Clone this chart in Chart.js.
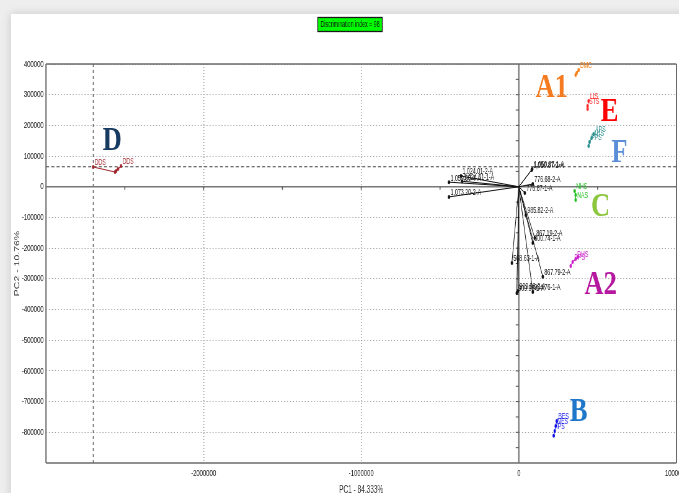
<!DOCTYPE html>
<html>
<head>
<meta charset="utf-8">
<script src="https://cdn.jsdelivr.net/npm/chart.js@4.4.1/dist/chart.umd.min.js"></script>
<style>
  html, body { margin: 0; padding: 0; width: 679px; height: 493px; overflow: hidden; background: #eeeeee; }
  #card { position: absolute; left: 11px; top: 14px; width: 760px; height: 560px; background: #ffffff;
          box-shadow: 0 0 9px rgba(0, 0, 0, 0.16); }
  #wrap { position: absolute; left: 0; top: 0; transform: scaleX(0.62); transform-origin: 0 0; }
  canvas { display: block; }
</style>
</head>
<body>
<div id="card"></div>
<div id="wrap"><canvas id="pca" width="1095" height="500"></canvas></div>
<script>
// ---- texts and axes -------------------------------------------------------
const CHART_TITLE = 'Discrimination index = 98';
const X_TITLE = 'PC1 - 84.333%';
const Y_TITLE = 'PC2 - 10.76%';
const X_TICKS = [-2000000, -1000000, 0, 1000000];
const Y_TICKS = [400000, 300000, 200000, 100000, 0, -100000, -200000, -300000,
                 -400000, -500000, -600000, -700000, -800000];
const X_RANGE = [-3000000, 1000000];
const Y_RANGE = [-900000, 400000];

// dashed reference lines through group D
const REF_X = -2700000;
const REF_Y = 65000;

// ---- loading vectors (drawn from the origin) ------------------------------
const LOADING_NAMES = ['1,059.90-4-A', '1,024.01-2-A', '1,024.01-1-A', '1,073.20-2-A',
  '1,050.87-2-A', '1,050.87-1-A', '776.68-2-A', '776.87-1-A', '985.82-2-A',
  '867.19-2-A', '800.74-1-A', '568.63-1-A', '867.79-2-A', '909.98-1-A',
  '909.98-2-A', '964.76-1-A'];
const LOADING_X = [-443000, -367000, -360000, -443000, 82000, 85000, 88500, 38000, 44000,
  101000, 88500, -44000, 152000, -13000, -6000, 88500];
const LOADING_Y = [15000, 35000, 18000, -33000, 55000, 58000, 9000, -20000, -92000,
  -167000, -183000, -248000, -293000, -346000, -340000, -343000];

// ---- sample groups ----------------------------------------------------------
const D_X = [-2701000, -2562000, -2543000, -2524000, -2555000];
const D_Y = [64500, 48200, 57600, 67700, 51500];
const D_LABELS = ['DDS', '', '', 'DDS', ''];

const A1_X = [360500, 366900, 379500];
const A1_Y = [364100, 370700, 380400];
const A1_LABELS = ['', '', 'BMC'];

const E_X = [442800, 436400, 436400];
const E_Y = [279500, 263200, 253400];
const E_LABELS = ['LIS', 'STS', ''];

const F_X = [442800, 449000, 461700, 474400];
const F_Y = [132900, 145900, 158900, 171900];
const F_LABELS = ['', 'PPS', 'AHS', 'APS'];

const C_X = [360500, 360500, 354200];
const C_Y = [-43000, -26700, -13700];
const C_LABELS = ['NAS', '', 'NHS'];

const A2_X = [328900, 341600, 360500, 373200];
const A2_Y = [-258000, -244900, -235200, -228700];
const A2_LABELS = ['', 'DPS', 'DHS', ''];

const B_X = [221400, 227700, 234000, 240400];
const B_Y = [-811600, -795400, -779100, -762800];
const B_LABELS = ['', 'IPS', 'NES', 'BES'];

// group tags placed next to each group
const TAG_NAMES = ['D', 'A1', 'E', 'F', 'C', 'A2', 'B'];
const TAG_X = [-2580000, 208700, 575600, 638800, 518700, 518700, 379500];
const TAG_Y = [152000, 325000, 246900, 113300, -65800, -319800, -733400];

// ---- styles -------------------------------------------------------------------
const SQUEEZE = 0.62;                 // horizontal squeeze applied by the page CSS
const GROUP_STYLE = {
  D:  '#a1282e',
  A1: '#f7821b',
  E:  '#ff2a2a',
  F:  '#2b8f8f',
  C:  '#1fbf1f',
  A2: '#cc22cc',
  B:  '#1515e6'
};
const TAG_STYLE = {
  D:  '#173a61',
  A1: '#f47b20',
  E:  '#ff0000',
  F:  '#5b8ed6',
  C:  '#8cc63e',
  A2: '#b5179e',
  B:  '#1f77c9'
};

const FONT = "'Liberation Sans', Arial, sans-serif";
Chart.defaults.font.family = FONT;

// ---- datasets ------------------------------------------------------------------
const datasets = [];

LOADING_NAMES.forEach((name, i) => {
  datasets.push({
    label: name,
    data: [{ x: 0, y: 0 }, { x: LOADING_X[i], y: LOADING_Y[i] }],
    showLine: true,
    borderColor: '#111111',
    borderWidth: 1,
    pointRadius: [0, 2],
    pointBackgroundColor: '#111111',
    pointBorderWidth: 0,
    pointLabels: ['', name],
    labelColor: '#111111'
  });
});

const groups = [
  ['D', D_X, D_Y, D_LABELS],
  ['A1', A1_X, A1_Y, A1_LABELS],
  ['E', E_X, E_Y, E_LABELS],
  ['F', F_X, F_Y, F_LABELS],
  ['C', C_X, C_Y, C_LABELS],
  ['A2', A2_X, A2_Y, A2_LABELS],
  ['B', B_X, B_Y, B_LABELS]
];
groups.forEach(([key, xs, ys, labels]) => {
  const color = GROUP_STYLE[key];
  datasets.push({
    label: key,
    data: xs.map((x, i) => ({ x, y: ys[i] })),
    showLine: true,
    borderColor: color,
    borderWidth: 1.1,
    pointRadius: 2,
    pointBackgroundColor: color,
    pointBorderWidth: 0,
    pointLabels: labels,
    labelColor: color
  });
});

// ---- drawing helpers ---------------------------------------------------------------
const frame = {
  id: 'frame',
  beforeDatasetsDraw(chart) {
    const { ctx, chartArea: a, scales: { x, y } } = chart;
    const x0 = x.getPixelForValue(0);
    const y0 = y.getPixelForValue(0);
    ctx.save();

    // dashed reference lines
    const rx = x.getPixelForValue(REF_X);
    const ry = y.getPixelForValue(REF_Y);
    ctx.strokeStyle = '#444444';
    ctx.lineWidth = 1.1;
    ctx.setLineDash([5, 3.5]);
    ctx.beginPath(); ctx.moveTo(a.left, ry); ctx.lineTo(a.right, ry); ctx.stroke();
    ctx.strokeStyle = '#707070';
    ctx.lineWidth = 1.6;
    ctx.setLineDash([3, 3]);
    ctx.beginPath(); ctx.moveTo(rx, a.top); ctx.lineTo(rx, a.bottom); ctx.stroke();
    ctx.setLineDash([]);

    // zero axes
    ctx.strokeStyle = '#777777';
    ctx.lineWidth = 1.4;
    ctx.beginPath(); ctx.moveTo(a.left, y0); ctx.lineTo(a.right, y0); ctx.stroke();
    ctx.lineWidth = 2.2;
    ctx.beginPath(); ctx.moveTo(x0, a.top); ctx.lineTo(x0, a.bottom); ctx.stroke();

    // small ticks on the zero axes
    ctx.strokeStyle = '#555555';
    ctx.lineWidth = 1;
    for (let v = Y_RANGE[0] + 50000; v < Y_RANGE[1]; v += 50000) {
      const py = y.getPixelForValue(v);
      ctx.beginPath(); ctx.moveTo(x0 - 5, py); ctx.lineTo(x0, py); ctx.stroke();
    }
    ctx.lineWidth = 1.6;
    for (let v = X_RANGE[0] + 500000; v < X_RANGE[1]; v += 500000) {
      const px = x.getPixelForValue(v);
      ctx.beginPath(); ctx.moveTo(px, y0); ctx.lineTo(px, y0 + 3); ctx.stroke();
    }

    // plot frame
    ctx.strokeStyle = '#6a6a6a';
    ctx.lineWidth = 1.3;
    ctx.beginPath(); ctx.moveTo(a.left, a.top); ctx.lineTo(a.right, a.top); ctx.stroke();
    ctx.beginPath(); ctx.moveTo(a.left, a.bottom); ctx.lineTo(a.right, a.bottom); ctx.stroke();
    ctx.lineWidth = 2;
    ctx.beginPath(); ctx.moveTo(a.left, a.top); ctx.lineTo(a.left, a.bottom); ctx.stroke();
    ctx.beginPath(); ctx.moveTo(a.right, a.top); ctx.lineTo(a.right, a.bottom); ctx.stroke();
    ctx.restore();
  },
  afterDatasetsDraw(chart) {
    const { ctx, scales: { x, y } } = chart;
    ctx.save();

    // point names
    ctx.font = '8.5px ' + FONT;
    ctx.textAlign = 'left';
    ctx.textBaseline = 'middle';
    chart.data.datasets.forEach((ds, di) => {
      const meta = chart.getDatasetMeta(di);
      (ds.pointLabels || []).forEach((txt, i) => {
        if (!txt) return;
        const el = meta.data[i];
        ctx.fillStyle = ds.labelColor;
        ctx.fillText(txt, el.x + 2.5, el.y - 4);
      });
    });

    // group tags
    ctx.textAlign = 'center';
    ctx.textBaseline = 'middle';
    ctx.font = "bold 33px 'Liberation Serif', 'Times New Roman', serif";
    TAG_NAMES.forEach((t, i) => {
      const px = x.getPixelForValue(TAG_X[i]);
      const py = y.getPixelForValue(TAG_Y[i]);
      ctx.save();
      ctx.translate(px, py + 1);
      ctx.scale(1.3, 1);
      ctx.fillStyle = TAG_STYLE[t];
      ctx.fillText(t, 0, 0);
      ctx.restore();
    });

    // title badge
    const cx = 350 / SQUEEZE;
    const bw = 104, bh = 14, by = 17.5;
    ctx.fillStyle = '#00ff00';
    ctx.fillRect(cx - bw / 2, by, bw, bh);
    ctx.strokeStyle = '#1a1a1a';
    ctx.lineWidth = 1.3;
    ctx.strokeRect(cx - bw / 2, by, bw, bh);
    ctx.fillStyle = '#111111';
    ctx.font = '8.5px ' + FONT;
    ctx.fillText(CHART_TITLE, cx, by + bh / 2 + 0.5);
    ctx.restore();
  }
};

const gridColor = (ctx) => (ctx.tick && ctx.tick.value === 0) ? 'rgba(0,0,0,0)' : '#a0a0a0';

new Chart(document.getElementById('pca'), {
  type: 'scatter',
  data: { datasets },
  options: {
    responsive: false,
    animation: false,
    devicePixelRatio: 1,
    layout: { padding: { top: 64, right: 1.5, bottom: 0, left: 0 } },
    plugins: { legend: { display: false }, tooltip: { enabled: false }, title: { display: false } },
    scales: {
      x: {
        type: 'linear',
        min: X_RANGE[0],
        max: X_RANGE[1],
        afterBuildTicks: (s) => { s.ticks = X_TICKS.map((value) => ({ value })); },
        afterFit: (s) => { s.height = 37; s.paddingLeft = 0; s.paddingRight = 0; },
        grid: { color: gridColor, lineWidth: 1.5, drawTicks: false },
        border: { display: false, dash: [1, 2] },
        ticks: {
          color: '#222222',
          font: { size: 9.5 },
          padding: 5,
          maxRotation: 0,
          autoSkip: false,
          callback: (v) => String(v)
        },
        title: {
          display: true,
          text: X_TITLE,
          color: '#333333',
          font: { size: 10.5 },
          padding: { top: 0, bottom: 4 }
        }
      },
      y: {
        type: 'linear',
        min: Y_RANGE[0],
        max: Y_RANGE[1],
        afterBuildTicks: (s) => { s.ticks = Y_TICKS.map((value) => ({ value })); },
        afterFit: (s) => { s.width = 74.2; s.paddingTop = 0; s.paddingBottom = 0; },
        grid: { color: gridColor, lineWidth: 1, drawTicks: false },
        border: { display: false, dash: [1.6, 3.2] },
        ticks: {
          color: '#222222',
          font: { size: 9.5 },
          padding: 4,
          autoSkip: false,
          callback: (v) => String(v)
        },
        title: {
          display: true,
          text: Y_TITLE,
          color: '#333333',
          font: { size: 10.5 },
          padding: { top: 22, bottom: 0 }
        }
      }
    }
  },
  plugins: [frame]
});
</script>
</body>
</html>
